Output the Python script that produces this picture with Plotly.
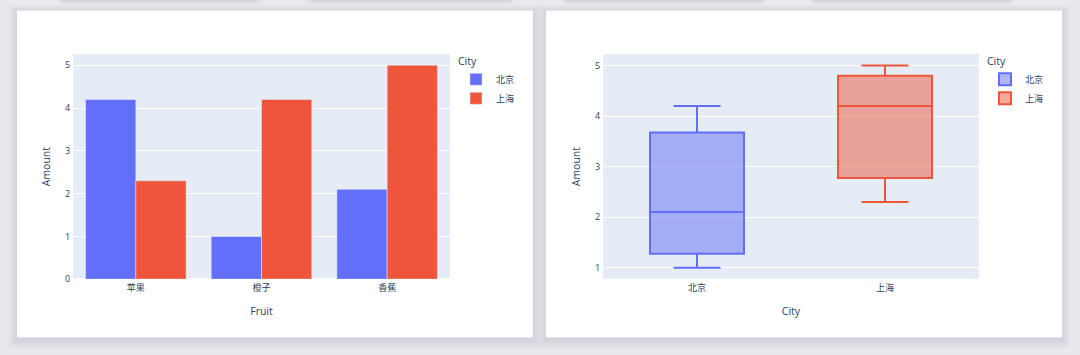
import numpy as np
import plotly.graph_objects as go

# ---------------- data ----------------
fruits = ["苹果", "橙子", "香蕉"]
cities = ["北京", "上海"]
amount_beijing = [4.2, 1.0, 2.1]
amount_shanghai = [2.3, 4.2, 5.0]

colors = {"北京": "#636efa", "上海": "#EF553B"}

W, H = 1080, 355
FONT = "Open Sans, Noto Sans CJK SC, sans-serif"
FC = "#2a3f5f"
PLOT_BG = "#E5ECF6"


def px_x(x):
    return x / W


def px_y(y):
    return 1 - y / H


fig = go.Figure()

# ---- bar chart (left card) ----
for city, vals in zip(cities, [amount_beijing, amount_shanghai]):
    fig.add_trace(go.Bar(
        x=fruits, y=vals, name=city, marker_color=colors[city],
        marker_line=dict(color=PLOT_BG, width=0.5),
        xaxis="x", yaxis="y", legend="legend", legendgroup=city,
    ))

# ---- box chart (right card) ----
for city, vals in zip(cities, [amount_beijing, amount_shanghai]):
    arr = np.array(vals)
    fig.add_trace(go.Box(
        x=[city],
        q1=[float(np.quantile(arr, 0.25, method="hazen"))],
        median=[float(np.median(arr))],
        q3=[float(np.quantile(arr, 0.75, method="hazen"))],
        lowerfence=[float(arr.min())],
        upperfence=[float(arr.max())],
        name=city, marker_color=colors[city], line=dict(width=2),
        width=0.5, whiskerwidth=0.5,
        xaxis="x2", yaxis="y2", legend="legend2",
    ))

# ---------------- background cards ----------------
shapes = []


def rect(x0, y0, x1, y1, color, layer="below"):
    shapes.append(dict(type="rect", xref="paper", yref="paper",
                       x0=px_x(x0), x1=px_x(x1), y0=px_y(y1), y1=px_y(y0),
                       fillcolor=color, line=dict(width=0), layer=layer))


cards = [(17, 11, 533, 343), (546, 11, 1062, 343)]
plots = [(73, 55, 450, 284), (603, 55, 979, 284)]
# shadows of cards above (peeking at top)
for (a, b) in [(62, 256), (312, 510), (566, 762), (814, 1010)]:
    for k in range(5):
        rect(a - 6 + k * 1.5, -20, b + 6 - k * 1.5, 0 + k * 1.1, "rgba(60,60,80,0.025)")
# shadows of the cards
for (x0, y0, x1, y1) in cards:
    for k in range(5):
        d = 8 - k * 1.6
        rect(x0 - d, y0 - d + 2, x1 + d, y1 + d + 3, "rgba(60,60,80,0.018)")
for (x0, y0, x1, y1) in cards:
    rect(x0, y0, x1, y1, "white")
for (x0, y0, x1, y1) in plots:
    rect(x0, y0, x1, y1, PLOT_BG)

axis_common = dict(
    gridcolor="white", linecolor="white", zeroline=True,
    zerolinecolor="white", zerolinewidth=2,
    tickfont=dict(size=9, color=FC, family=FONT),
    title_font=dict(size=10.5, color=FC, family=FONT),
    ticks="",
)

fig.update_layout(
    width=W, height=H,
    margin=dict(l=0, r=0, t=0, b=0),
    paper_bgcolor="#e8e8ed",
    plot_bgcolor="rgba(0,0,0,0)",
    font=dict(family=FONT, color=FC, size=9),
    barmode="group", bargap=0.2,
    boxmode="overlay",
    showlegend=True,
    shapes=shapes,
    xaxis=dict(domain=[px_x(73), px_x(450)], anchor="y", showgrid=False,
               title=dict(text="Fruit", standoff=14), **axis_common),
    yaxis=dict(domain=[px_y(284), px_y(55)], anchor="x",
               range=[0, 5.263], dtick=1,
               title=dict(text="Amount", standoff=12), **axis_common),
    xaxis2=dict(domain=[px_x(603), px_x(979)], anchor="y2", showgrid=False,
                range=[-0.5, 1.5],
                title=dict(text="City", standoff=14), **axis_common),
    yaxis2=dict(domain=[px_y(284), px_y(55)], anchor="x2",
                range=[0.772, 5.228], dtick=1,
                title=dict(text="Amount", standoff=12), **axis_common),
    legend=dict(x=px_x(456), y=px_y(52), xanchor="left", yanchor="top",
                bgcolor="rgba(0,0,0,0)",
                title=dict(text="City", font=dict(size=10.5, color=FC, family=FONT)),
                font=dict(size=9, color=FC, family=FONT), tracegroupgap=0),
    legend2=dict(x=px_x(985), y=px_y(52), xanchor="left", yanchor="top",
                 bgcolor="rgba(0,0,0,0)",
                 title=dict(text="City", font=dict(size=10.5, color=FC, family=FONT)),
                 font=dict(size=9, color=FC, family=FONT), tracegroupgap=0),
)

fig.write_html(
    "out.html",
    config={"displayModeBar": False},
    post_script="document.body.style.margin='0';document.body.style.overflow='hidden';"
                "document.body.style.background='#e8e8ed';",
)
